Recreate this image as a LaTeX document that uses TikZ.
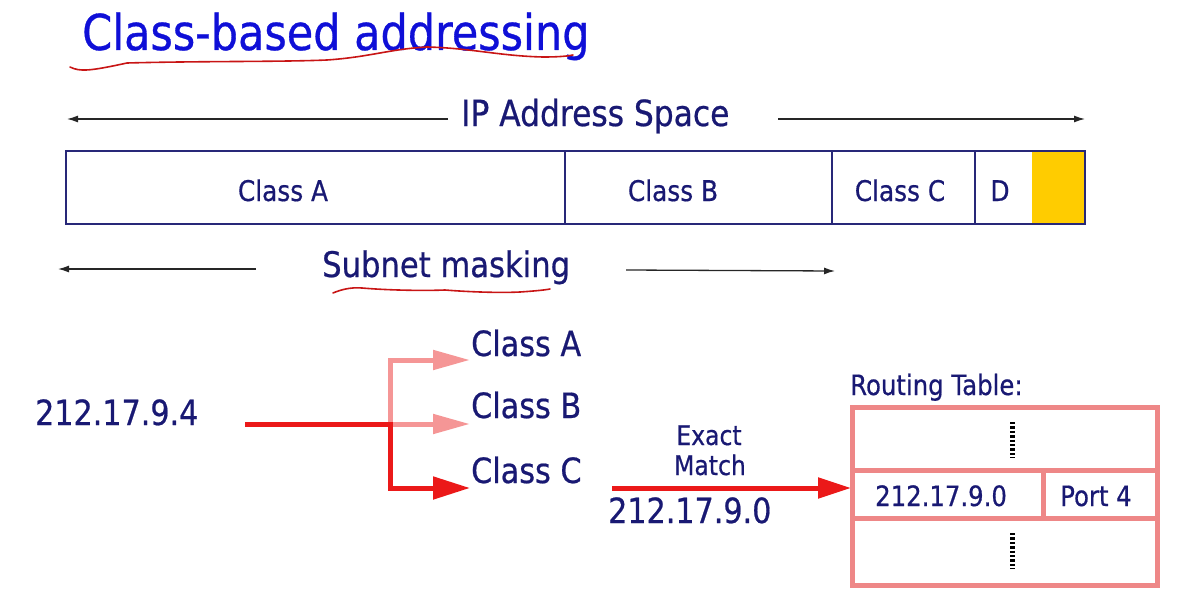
\documentclass[tikz,border=0pt]{standalone}
\usepackage{fontspec}
\setmainfont{DejaVu Sans}[FakeStretch=0.87,FakeBold=0.6]
\usetikzlibrary{arrows.meta}
\definecolor{navy}{RGB}{25,25,115}
\definecolor{titleblue}{RGB}{15,15,215}
\definecolor{redline}{RGB}{235,25,25}
\definecolor{lightred}{RGB}{245,150,150}
\definecolor{tablepink}{RGB}{238,135,135}
\definecolor{goldfill}{RGB}{255,204,0}
\definecolor{barborder}{RGB}{40,40,120}
\newcommand{\fs}[1]{\fontsize{#1}{#1}\selectfont}
\begin{document}
\begin{tikzpicture}[x=1pt,y=-1pt,
  lbl/.style={text=navy, inner sep=0pt, anchor=base west},
  clbl/.style={text=navy, inner sep=0pt, anchor=base},
  thinarrow/.style={-{Latex[length=11pt,width=7pt]}, line width=1.3pt, draw=black!85},
  brightred/.style={line width=5pt, draw=redline},
  paler/.style={line width=5pt, draw=lightred},
  wavy/.style={draw=redline!85!black, line width=1.6pt, line cap=round},
  tableline/.style={draw=tablepink, line width=5pt},
  dotline/.style={draw=black, line width=5pt, dash pattern=on 2.4pt off 2pt}]
\useasboundingbox (0,0) rectangle (1177,602);

% title
\node[lbl, text=titleblue, font=\fs{49.4}] (title) at (82,50) {Class-based addressing};
\draw[wavy] (70,67) .. controls (80,72) and (90,71) .. (127,63)
  .. controls (200,61) and (280,62) .. (327,60)
  .. controls (370,57) and (390,49) .. (427,47)
  .. controls (470,48) and (500,56) .. (543,57)
  .. controls (560,57) and (568,56) .. (573,55);

% IP address space
\node[lbl, font=\fs{36}] (ipspace) at (461,126) {IP Address Space};
\coordinate (ipLs) at (448,119);
\coordinate (ipLe) at (67,119);
\coordinate (ipRs) at (778,119);
\coordinate (ipRe) at (1085,119);
\draw[thinarrow] (ipLs) -- (ipLe);
\draw[thinarrow] (ipRs) -- (ipRe);

% address bar
\fill[goldfill] (1032,151) rectangle (1085,224);
\draw[barborder, line width=1.5pt] (66,151) rectangle (1085,224);
\foreach \xx in {565,832,975} \draw[barborder, line width=1.5pt] (\xx,151) -- (\xx,224);
\node[clbl, font=\fs{28.5}] (barA) at (283,201) {Class A};
\node[clbl, font=\fs{28.5}] (barB) at (673,201) {Class B};
\node[clbl, font=\fs{28.5}] (barC) at (900,201) {Class C};
\node[clbl, font=\fs{28.5}] (barD) at (1000,201) {D};

% subnet masking
\node[lbl, font=\fs{35.2}] (subnet) at (322,277) {Subnet masking};
\coordinate (snLs) at (256,269);
\coordinate (snLe) at (58,269);
\coordinate (snRs) at (626,270);
\coordinate (snRe) at (835,271);
\draw[thinarrow] (snLs) -- (snLe);
\draw[thinarrow] (snRs) -- (snRe);
\draw[wavy] (333,293) .. controls (340,290) and (350,287) .. (362,288)
  .. controls (385,290) and (420,291) .. (445,290)
  .. controls (470,292) and (500,293) .. (520,292)
  .. controls (535,291) and (545,290) .. (550,289);

% address and classes
\node[lbl, font=\fs{34.7}] (addr) at (35,425) {212.17.9.4};
\node[lbl, font=\fs{34.8}] (cA) at (471,356) {Class A};
\node[lbl, font=\fs{34.8}] (cB) at (471,418) {Class B};
\node[lbl, font=\fs{34.8}] (cC) at (471,483) {Class C};
\coordinate (src) at (245,424);
\coordinate (junc) at (390,424);
\coordinate (tipA) at (470,360);
\coordinate (tipB) at (470,424);
\coordinate (tipC) at (470,488);
\draw[paler, -{Triangle[length=37pt,width=19pt]}] (junc) |- (tipA);
\draw[paler, -{Triangle[length=37pt,width=19pt]}] (junc) -- (tipB);
\draw[brightred, -{Triangle[length=37pt,width=22pt]}] (src) -- (junc) |- (tipC);

% exact match
\node[clbl, font=\fs{27}] (exact) at (709,445) {Exact};
\node[clbl, font=\fs{27}] (match) at (710,475) {Match};
\node[lbl, font=\fs{34.7}] (net) at (608,523) {212.17.9.0};
\coordinate (emS) at (612,488);
\coordinate (emE) at (851,488);
\draw[brightred, -{Triangle[length=33pt,width=20pt]}] (emS) -- (emE);

% routing table
\node[lbl, font=\fs{28}] (rt) at (850,395) {Routing Table:};
\draw[tableline] (852,407) rectangle (1157,585);
\draw[tableline] (852,470) -- (1157,470);
\draw[tableline] (852,518) -- (1157,518);
\draw[tableline] (1043,470) -- (1043,518);
\node[lbl, font=\fs{28}] (rtnet) at (875,506) {212.17.9.0};
\node[lbl, font=\fs{28}] (rtport) at (1060,506) {Port 4};
\coordinate (d1s) at (1012,422);
\coordinate (d1e) at (1012,458);
\coordinate (d2s) at (1012,533);
\coordinate (d2e) at (1012,569);
\draw[dotline] (d1s) -- (d1e);
\draw[dotline] (d2s) -- (d2e);
\end{tikzpicture}
\end{document}
